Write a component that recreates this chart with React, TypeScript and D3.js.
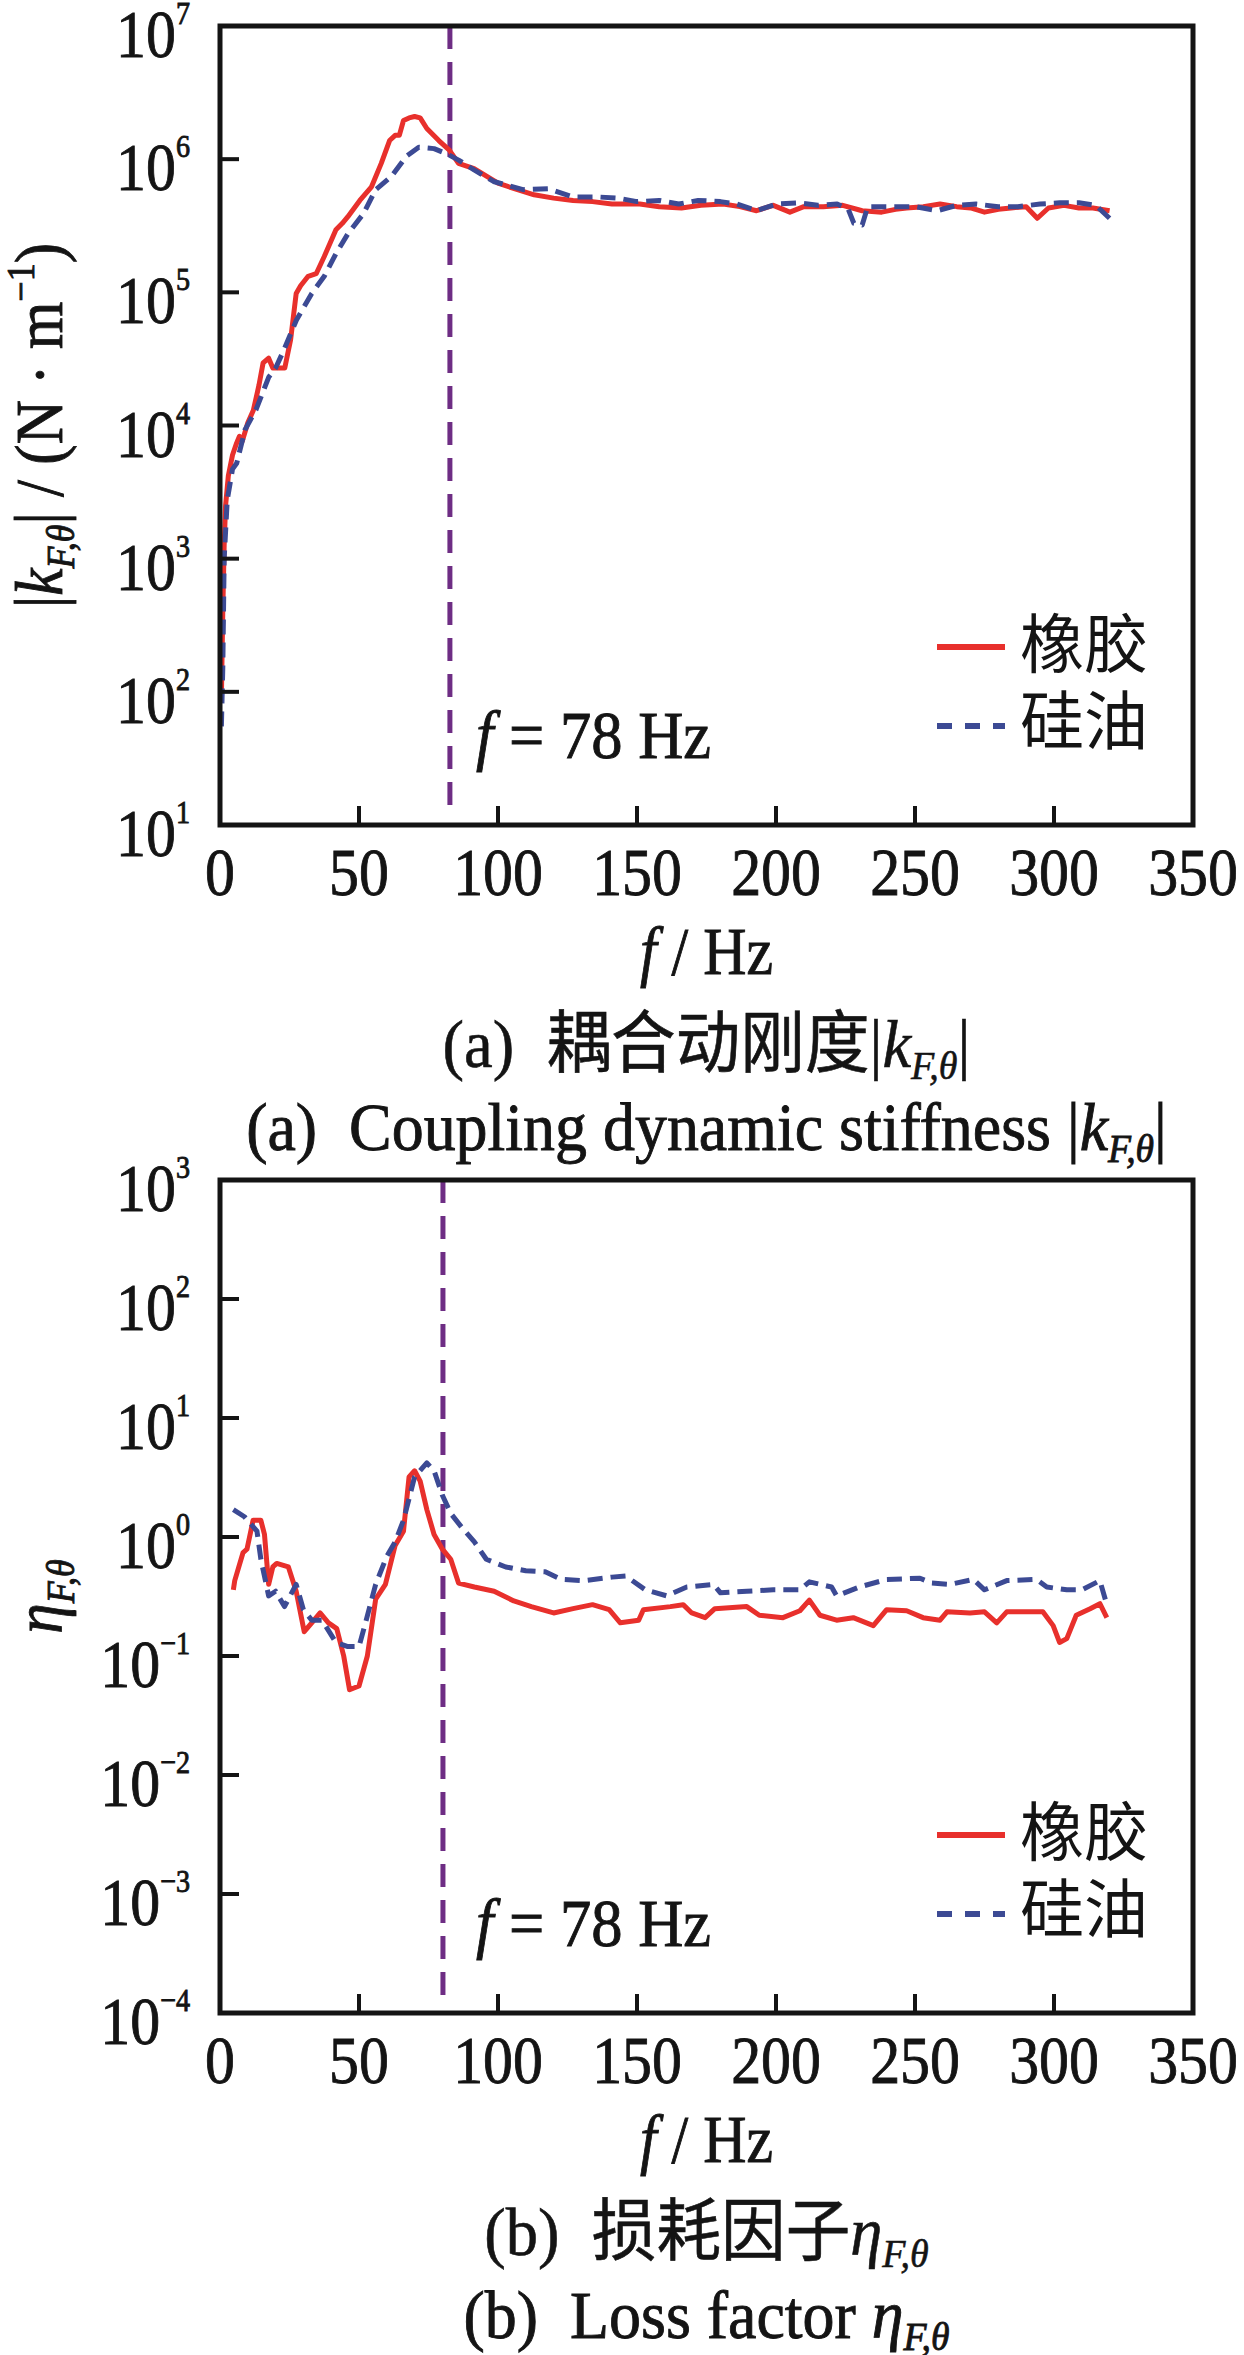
import React from 'react';
import * as d3 from 'd3';

const W = 1244;
const H = 2355;
const SERIF = "'Liberation Serif', 'Times New Roman', 'Noto Sans CJK SC', serif";
const CJK = "'Noto Sans CJK SC', 'Liberation Serif', serif";

// x axis ticks (Hz)
const xTicks = [0, 50, 100, 150, 200, 250, 300, 350];
// decade exponents
const kExps = [1, 2, 3, 4, 5, 6, 7];
const etaExps = [-4, -3, -2, -1, 0, 1, 2, 3];

const legendLabels = ['橡胶', '硅油'];
const markerLabel = '78 Hz';
// measured positions of the vertical marker line in each panel (Hz)
const markerK = 82.7;
const markerEta = 80.2;

// (a) coupling dynamic stiffness |k| (N/m) — rubber (橡胶)
const rubberK: [number, number][] = [
  [0.5, 90], [1, 400], [1.5, 1260], [2, 2500], [3, 4200], [4.5, 6000], [6, 7400], [7, 8300], [8, 7600],
  [10, 1.05e4], [12, 1.3e4], [14, 2.0e4], [15.5, 2.95e4], [17.5, 3.2e4], [19, 2.7e4], [21, 2.7e4],
  [23.3, 2.7e4], [25.4, 4.4e4], [27.4, 9.8e4], [29, 1.12e5], [31.7, 1.32e5], [34.6, 1.38e5],
  [37.5, 1.86e5], [41.7, 2.95e5], [44, 3.3e5], [46, 3.7e5], [50.3, 4.9e5], [54.5, 6.2e5], [58, 9.3e5],
  [61, 1.38e6], [63, 1.51e6], [64.5, 1.51e6], [66, 1.95e6], [68, 2.04e6], [70, 2.09e6], [72, 2.04e6],
  [74.4, 1.7e6], [78.7, 1.38e6], [82.5, 1.17e6], [85.8, 9.3e5], [91.4, 8.5e5], [100, 6.6e5],
  [107, 5.9e5], [113, 5.4e5], [120, 5.1e5], [127, 4.9e5], [134, 4.8e5], [141, 4.6e5], [151, 4.6e5],
  [158, 4.4e5], [166, 4.3e5], [173, 4.5e5], [181, 4.6e5], [187, 4.4e5], [193, 4.1e5], [199, 4.5e5],
  [205, 4.0e5], [210, 4.4e5], [217, 4.4e5], [224, 4.5e5], [231, 4.1e5], [238, 4.0e5], [243, 4.2e5],
  [247, 4.3e5], [253, 4.4e5], [259, 4.6e5], [265, 4.4e5], [270, 4.3e5], [275, 4.0e5], [280, 4.2e5],
  [284.5, 4.3e5], [290, 4.4e5], [294, 3.6e5], [298, 4.3e5], [303.6, 4.5e5], [309, 4.3e5], [314, 4.3e5],
  [320, 4.1e5],
];

// (a) silicone oil (硅油)
const oilK: [number, number][] = [
  [0.5, 55], [1, 150], [1.5, 1000], [2.6, 2750], [4.5, 4700], [6, 5200], [9, 9300], [13, 1.32e4],
  [17.5, 2.3e4], [20, 2.7e4], [23, 3.7e4], [27.5, 6.2e4], [33, 9.8e4], [37.5, 1.32e5], [41.7, 1.95e5],
  [46, 2.75e5], [51.6, 3.9e5], [56, 5.9e5], [61.6, 7.4e5], [67, 1.05e6], [71.5, 1.23e6], [77, 1.2e6],
  [81.5, 1.1e6], [86, 9.8e5], [91.4, 8.3e5], [98.4, 6.8e5], [109, 5.9e5], [118, 6.0e5], [127, 5.2e5],
  [136, 5.2e5], [143, 5.1e5], [150, 4.8e5], [158, 4.9e5], [165, 4.6e5], [172, 4.9e5], [180, 4.8e5],
  [186, 4.6e5], [193, 4.1e5], [200, 4.6e5], [208, 4.7e5], [215, 4.5e5], [222, 4.6e5], [226, 4.2e5],
  [228, 3.3e5], [231, 3.2e5], [233, 4.4e5], [240, 4.4e5], [250, 4.4e5], [258, 4.1e5], [265, 4.5e5],
  [272, 4.6e5], [280, 4.4e5], [287, 4.4e5], [295, 4.6e5], [302, 4.7e5], [309, 4.7e5], [315, 4.5e5],
  [320, 3.6e5],
];

// (b) loss factor η — rubber (橡胶)
const rubberEta: [number, number][] = [
  [4.8, 0.36], [5.3, 0.43], [8.3, 0.74], [9.7, 0.79], [11.9, 1.38], [14.7, 1.38], [16, 1.05],
  [17.5, 0.4], [19, 0.56], [20.4, 0.6], [24.6, 0.56], [27.4, 0.35], [30.3, 0.16], [33, 0.19],
  [36, 0.23], [39, 0.19], [42, 0.17], [44.5, 0.1], [46.6, 0.052], [50, 0.056], [53, 0.1], [56, 0.3],
  [59.5, 0.4], [63, 0.85], [66, 1.12], [68, 3.2], [70, 3.6], [72, 2.95], [74.4, 1.7], [77, 1.05],
  [80, 0.79], [83, 0.65], [85.8, 0.41], [91.5, 0.38], [98.6, 0.35], [105.7, 0.29], [112, 0.26],
  [120, 0.23], [127, 0.25], [134, 0.27], [140, 0.245], [144, 0.19], [150.6, 0.2], [152.3, 0.245],
  [162, 0.26], [166.6, 0.27], [169.7, 0.23], [174.5, 0.21], [178, 0.25], [189.5, 0.26], [194, 0.22],
  [202.5, 0.21], [208.6, 0.24], [212, 0.295], [215.8, 0.22], [221.8, 0.2], [227.8, 0.21], [235, 0.18],
  [239.8, 0.245], [247, 0.24], [252.9, 0.21], [259, 0.2], [261.5, 0.235], [269.8, 0.23], [275, 0.235],
  [279.4, 0.19], [283, 0.235], [296, 0.235], [299.7, 0.18], [302, 0.13], [304.6, 0.14], [308, 0.22],
  [313, 0.25], [316.5, 0.275], [319, 0.21],
];

// (b) silicone oil (硅油)
const oilEta: [number, number][] = [
  [4.8, 1.7], [8.8, 1.48], [13.3, 1.12], [14.7, 0.65], [17.5, 0.32], [20, 0.35], [23.2, 0.26],
  [27.4, 0.4], [30, 0.245], [33, 0.2], [36.7, 0.2], [41.7, 0.13], [46, 0.12], [50, 0.12], [52.6, 0.2],
  [56, 0.4], [60, 0.69], [63, 0.91], [66, 1.38], [70, 3.2], [74.4, 4.2], [77, 3.6], [80, 2.24],
  [83, 1.58], [87, 1.2], [91.5, 0.91], [95.8, 0.65], [102.8, 0.56], [110, 0.52], [117, 0.51],
  [122.8, 0.44], [131, 0.43], [141, 0.46], [146, 0.47], [153, 0.36], [160.7, 0.32], [167.9, 0.38],
  [177.4, 0.4], [180, 0.34], [189.5, 0.35], [199, 0.36], [208.6, 0.36], [212, 0.42], [220, 0.38],
  [221.8, 0.32], [230, 0.38], [239.8, 0.44], [251.8, 0.45], [256, 0.41], [262.6, 0.4], [271, 0.44],
  [275, 0.36], [283, 0.43], [293.7, 0.44], [297.4, 0.38], [304.6, 0.36], [310, 0.36], [316.5, 0.43],
  [319, 0.27],
];

const RED = '#e8302c';
const BLUE = '#3c4a94';
const PURPLE = '#6e2d84';
const INK = '#141414';

const LEFT = 220;
const RIGHT = 1193;
const CX = (LEFT + RIGHT) / 2;

type T = { x: number; y: number; anchor?: string; size?: number; sx?: number; children?: React.ReactNode; family?: string; bold?: number };
function Txt({ x, y, anchor = 'middle', size = 68, sx = 0.88, children, family = SERIF, bold = 0.9 }: T) {
  return (
    <text
      transform={`translate(${x},${y}) scale(${sx},1)`}
      textAnchor={anchor}
      fontSize={size}
      fontFamily={family}
      fill={INK}
      stroke={INK}
      strokeWidth={bold}
      style={{ whiteSpace: 'pre' }}
    >
      {children}
    </text>
  );
}

const fmtExp = (e: number) => (e < 0 ? '\u2212' + Math.abs(e) : String(e));

type PanelProps = {
  id: string;
  top: number;
  bottom: number;
  exps: number[];
  red: [number, number][];
  blue: [number, number][];
  marker: number;
  markerGap: number;
  yTitle: React.ReactNode;
};

function Panel({ id, top, bottom, exps, red, blue, marker, markerGap, yTitle }: PanelProps) {
  const x = d3.scaleLinear().domain([0, 350]).range([LEFT, RIGHT]);
  const y = d3
    .scaleLog()
    .domain([Math.pow(10, exps[0]), Math.pow(10, exps[exps.length - 1])])
    .range([bottom, top]);
  const line = d3
    .line<[number, number]>()
    .x((d) => x(d[0]))
    .y((d) => y(d[1]));
  const xm = x(marker);
  return (
    <g>
      <defs>
        <clipPath id={`clip-${id}`}>
          <rect x={LEFT} y={top} width={RIGHT - LEFT} height={bottom - top} />
        </clipPath>
      </defs>
      <g clipPath={`url(#clip-${id})`}>
        <line x1={xm} x2={xm} y1={top} y2={bottom - markerGap} stroke={PURPLE} strokeWidth={5} strokeDasharray="23 13" />
        <path d={line(red) || ''} fill="none" stroke={RED} strokeWidth={5} strokeLinejoin="round" />
        <path d={line(blue) || ''} fill="none" stroke={BLUE} strokeWidth={5} strokeDasharray="15 8" strokeLinejoin="round" />
      </g>
      {/* ticks */}
      {exps.map((e) => (
        <line key={'yt' + e} x1={LEFT} x2={LEFT + 19} y1={y(Math.pow(10, e))} y2={y(Math.pow(10, e))} stroke={INK} strokeWidth={4} />
      ))}
      {xTicks.map((t) => (
        <line key={'xt' + t} x1={x(t)} x2={x(t)} y1={bottom} y2={bottom - 19} stroke={INK} strokeWidth={4} />
      ))}
      <rect x={LEFT} y={top} width={RIGHT - LEFT} height={bottom - top} fill="none" stroke={INK} strokeWidth={5} />
      {/* y tick labels */}
      {exps.map((e) => (
        <Txt key={'yl' + e} x={190} y={y(Math.pow(10, e)) + 31} anchor="end">
          10<tspan fontSize={32} dy={-33}>{fmtExp(e)}</tspan>
        </Txt>
      ))}
      {/* x tick labels */}
      {xTicks.map((t) => (
        <Txt key={'xl' + t} x={x(t)} y={bottom + 70}>
          {String(t)}
        </Txt>
      ))}
      {/* x title */}
      <Txt x={CX} y={bottom + 149}>
        <tspan fontStyle="italic">f</tspan> / Hz
      </Txt>
      {/* y title */}
      <text
        transform={`translate(62,${(top + bottom) / 2}) rotate(-90) scale(0.9,1)`}
        textAnchor="middle"
        fontSize={68}
        fontFamily={SERIF}
        fill={INK}
        stroke={INK}
        strokeWidth={0.9}
        style={{ whiteSpace: 'pre' }}
      >
        {yTitle}
      </text>
      {/* annotation */}
      <Txt x={476} y={bottom - 67} anchor="start" sx={0.92}>
        <tspan fontStyle="italic">f</tspan> = {markerLabel}
      </Txt>
      {/* legend */}
      <line x1={937} x2={1005} y1={bottom - 178} y2={bottom - 178} stroke={RED} strokeWidth={6} />
      <line x1={937} x2={1005} y1={bottom - 99} y2={bottom - 99} stroke={BLUE} strokeWidth={6} strokeDasharray="15 13" />
      <Txt x={1020} y={bottom - 158} anchor="start" sx={1} size={64} family={CJK} bold={0}>
        {legendLabels[0]}
      </Txt>
      <Txt x={1020} y={bottom - 81} anchor="start" sx={1} size={64} family={CJK} bold={0}>
        {legendLabels[1]}
      </Txt>
    </g>
  );
}

const Sub = ({ children }: { children: React.ReactNode }) => (
  <tspan fontStyle="italic" fontSize={40} dy={12}>
    {children}
  </tspan>
);

export default function App() {
  return (
    <div style={{ position: 'absolute', left: 0, top: 0, width: W, height: H, background: '#fff' }}>
      <svg width={W} height={H} viewBox={`0 0 ${W} ${H}`} style={{ display: 'block' }}>
        <rect width={W} height={H} fill="#fff" />
        <Panel
          id="k"
          top={26}
          bottom={825}
          exps={kExps}
          red={rubberK}
          blue={oilK}
          marker={markerK}
          markerGap={13}
          yTitle={
            <>
              |<tspan fontStyle="italic">k</tspan>
              <Sub>F,θ</Sub>
              <tspan dy={-12}>| / (N · m</tspan>
              <tspan fontSize={40} dy={-28}>{'\u22121'}</tspan>
              <tspan dy={28}>)</tspan>
            </>
          }
        />
        <Panel
          id="eta"
          top={1180}
          bottom={2013}
          exps={etaExps}
          red={rubberEta}
          blue={oilEta}
          marker={markerEta}
          markerGap={11}
          yTitle={
            <>
              <tspan fontStyle="italic">η</tspan>
              <Sub>F,θ</Sub>
            </>
          }
        />
        {/* captions */}
        <Txt x={CX} y={1067} sx={0.95} bold={0.6}>
          (a)  耦合动刚度|<tspan fontStyle="italic">k</tspan>
          <Sub>F,θ</Sub>
          <tspan dy={-12}>|</tspan>
        </Txt>
        <Txt x={CX} y={1150} sx={0.94}>
          (a)  Coupling dynamic stiffness |<tspan fontStyle="italic">k</tspan>
          <Sub>F,θ</Sub>
          <tspan dy={-12}>|</tspan>
        </Txt>
        <Txt x={CX} y={2255} sx={0.95} bold={0.6}>
          (b)  损耗因子<tspan fontStyle="italic">η</tspan>
          <Sub>F,θ</Sub>
        </Txt>
        <Txt x={CX} y={2338} sx={0.94}>
          (b)  Loss factor <tspan fontStyle="italic">η</tspan>
          <Sub>F,θ</Sub>
        </Txt>
      </svg>
    </div>
  );
}
